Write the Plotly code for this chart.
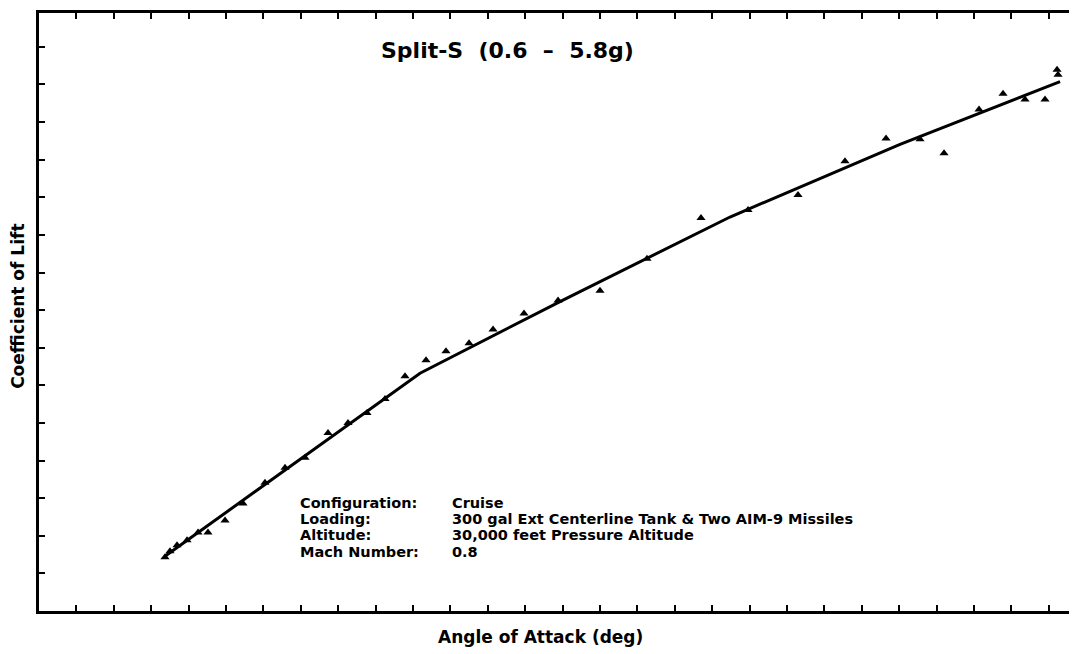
import plotly.graph_objects as go

# Measured data points (angle of attack in deg, lift coefficient)
aoa_deg = [1.684, 1.751, 1.845, 1.979, 2.126, 2.259, 2.487, 2.727, 3.021, 3.289,
           3.556, 3.864, 4.131, 4.385, 4.626, 4.893, 5.174, 5.441, 5.749, 6.070,
           6.484, 6.939, 7.500, 8.128, 8.850, 9.479, 10.147, 10.775, 11.324, 11.778,
           12.099, 12.567, 12.888, 13.182, 13.449, 13.610, 13.623]
cl_meas = [0.0714, 0.0794, 0.0873, 0.0939, 0.1045, 0.1045, 0.1204, 0.1429, 0.1706, 0.1905,
           0.2037, 0.2368, 0.2500, 0.2632, 0.2817, 0.3122, 0.3333, 0.3452, 0.3558, 0.3743,
           0.3955, 0.4127, 0.4259, 0.4683, 0.5225, 0.5331, 0.5529, 0.5979, 0.6283, 0.6270,
           0.6085, 0.6667, 0.6878, 0.6799, 0.6799, 0.7196, 0.7130]

# Fitted curve
aoa_fit = [1.684, 5.094, 6.965, 9.238, 11.511, 13.650]
cl_fit = [0.0728, 0.3161, 0.4114, 0.5238, 0.6204, 0.7037]

title_text = "Split-S  (0.6  \u2013  5.8g)"
info_labels = ["Configuration:", "Loading:", "Altitude:", "Mach Number:"]
info_values = ["Cruise", "300 gal Ext Centerline Tank & Two AIM-9 Missiles",
               "30,000 feet Pressure Altitude", "0.8"]
x_title = "Angle of Attack (deg)"
y_title = "Coefficient of Lift"

fig = go.Figure()
fig.add_trace(go.Scatter(x=aoa_fit, y=cl_fit, mode="lines",
                         line=dict(color="black", width=3), showlegend=False))
fig.add_trace(go.Scatter(x=aoa_deg, y=cl_meas, mode="markers",
                         marker=dict(symbol="triangle-up", size=8, color="black"),
                         showlegend=False))

anns = [
    dict(text=title_text, x=0.452, y=0.937, xref="paper", yref="paper",
         showarrow=False, xanchor="center", yanchor="middle",
         font=dict(family="DejaVu Sans", size=22, color="black", weight="bold")),
    dict(text=x_title, x=0.4836, y=-0.043, xref="paper", yref="paper",
         showarrow=False, xanchor="center", yanchor="middle",
         font=dict(family="DejaVu Sans", size=17, color="black", weight="bold")),
    dict(text=y_title, x=-0.021, y=0.509, xref="paper", yref="paper",
         showarrow=False, xanchor="center", yanchor="middle", textangle=-90,
         font=dict(family="DejaVu Sans", size=17, color="black", weight="bold")),
]
line_y = [0.1814, 0.1540, 0.1266, 0.0992]
for lab, val, yy in zip(info_labels, info_values, line_y):
    for txt, xx in ((lab, 0.25), (val, 0.3967)):
        anns.append(dict(text=txt, x=xx, y=yy, xref="paper", yref="paper",
                         showarrow=False, xanchor="left", yanchor="middle",
                         font=dict(family="DejaVu Sans", size=14.5, color="black",
                                   weight="bold")))

# page body has an 8px margin; size the figure so the plot lands where it should
fig.update_layout(
    width=1069, height=646,
    margin=dict(l=31, r=2, t=2, b=43),
    paper_bgcolor="white", plot_bgcolor="white",
    annotations=anns,
    xaxis=dict(range=[0, 13.85], dtick=0.5, tick0=0, ticks="inside", ticklen=6,
               tickwidth=2, tickcolor="black", showticklabels=False,
               showline=True, linewidth=3, linecolor="black", mirror="ticks",
               showgrid=False, zeroline=False),
    yaxis=dict(range=[0, 0.795], dtick=0.05, tick0=0, ticks="inside", ticklen=6,
               tickwidth=2, tickcolor="black", showticklabels=False,
               showline=True, linewidth=3, linecolor="black",
               showgrid=False, zeroline=False),
)

fig.write_html("out.html")
